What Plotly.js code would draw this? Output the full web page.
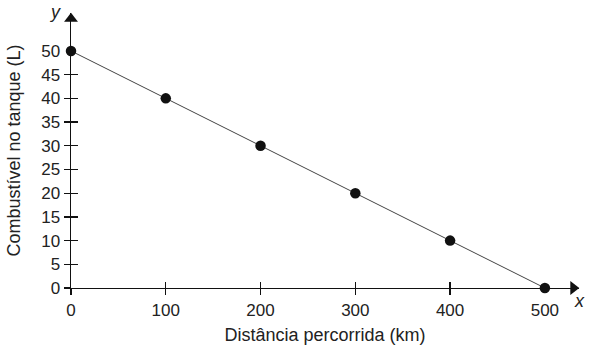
<!DOCTYPE html>
<html><head><meta charset="utf-8">
<script src="https://cdn.plot.ly/plotly-3.0.1.min.js"></script>
<style>body{margin:0;background:#fff}#c{width:601px;height:356px}</style>
</head><body><div id="c"></div>
<script>
const distancia = [0, 100, 200, 300, 400, 500];
const combustivel = [50, 40, 30, 20, 10, 0];
const xTicks = [0, 100, 200, 300, 400, 500];
const yTicks = [0, 5, 10, 15, 20, 25, 30, 35, 40, 45, 50];
const xTickMarks = [0, 100, 200, 300, 400];
const yTickMarks = [0, 5, 10, 15, 20, 25, 30, 35, 40, 45];
const xTitle = 'Distância percorrida (km)';
const yTitle = 'Combustível no tanque (L)';

const XMAX = 536, YMAX = 58;
const font = {family: 'Liberation Sans', color: '#222'};

const dummy = (xa, ya) => ({x: [0], y: [0], xaxis: xa, yaxis: ya, mode: 'markers', marker: {opacity: 0}, showlegend: false, hoverinfo: 'skip'});
const traces = [
  dummy('x', 'y'),
  dummy('x3', 'y3'),
  {x: distancia, y: combustivel, xaxis: 'x2', yaxis: 'y2', mode: 'lines', line: {color: '#444', width: 1}, cliponaxis: false, hoverinfo: 'skip', showlegend: false},
  {x: distancia, y: combustivel, xaxis: 'x2', yaxis: 'y2', mode: 'markers', marker: {color: '#111', size: 10.5}, cliponaxis: false, showlegend: false},
  {x: [0], y: [YMAX - 1.2], xaxis: 'x2', yaxis: 'y2', mode: 'markers', marker: {symbol: 'triangle-up', size: 12, color: '#111'}, cliponaxis: false, showlegend: false, hoverinfo: 'skip'},
  {x: [XMAX - 6], y: [0], xaxis: 'x2', yaxis: 'y2', mode: 'markers', marker: {symbol: 'triangle-right', size: 12, color: '#111'}, cliponaxis: false, showlegend: false, hoverinfo: 'skip'}
];

const axBase = {showgrid: false, zeroline: false, showline: false, linecolor: '#111', linewidth: 1.4, tickcolor: '#111', tickwidth: 1.3, layer: 'below traces'};

const layout = {
  width: 601, height: 356,
  margin: {l: 71, r: 22, t: 13, b: 68},
  paper_bgcolor: '#fff', plot_bgcolor: '#fff',
  font: Object.assign({size: 17}, font),
  xaxis: Object.assign({}, axBase, {range: [0, XMAX], showline: true, tickvals: xTicks, ticktext: xTicks.map(String), ticks: 'outside', ticklen: 6, tickcolor: 'rgba(0,0,0,0)',
    tickfont: Object.assign({size: 17}, font), title: {text: xTitle, font: Object.assign({size: 18}, font), standoff: 9}}),
  yaxis: Object.assign({}, axBase, {range: [0, YMAX], showline: true, tickvals: yTicks, ticktext: yTicks.map(String), ticks: 'outside', ticklen: 6, tickcolor: 'rgba(0,0,0,0)',
    tickfont: Object.assign({size: 17}, font), title: {text: yTitle, font: Object.assign({size: 18}, font), standoff: 16}}),
  xaxis2: Object.assign({}, axBase, {overlaying: 'x', range: [0, XMAX], tickvals: xTickMarks, ticks: 'inside', ticklen: 6, showticklabels: false}),
  yaxis2: Object.assign({}, axBase, {overlaying: 'y', range: [0, YMAX], tickvals: yTickMarks, ticks: 'inside', ticklen: 7, showticklabels: false}),
  xaxis3: Object.assign({}, axBase, {overlaying: 'x', range: [0, XMAX], tickvals: xTickMarks, ticks: 'outside', ticklen: 6, showticklabels: false}),
  yaxis3: Object.assign({}, axBase, {overlaying: 'y', range: [0, YMAX], tickvals: yTickMarks, ticks: 'outside', ticklen: 6, showticklabels: false}),
  annotations: [
    {text: '<i>y</i>', x: 0, y: YMAX, xref: 'x', yref: 'y', xanchor: 'right', yanchor: 'middle', xshift: -8, yshift: 1, showarrow: false, font: Object.assign({size: 18}, font)},
    {text: '<i>x</i>', x: XMAX, y: 0, xref: 'x', yref: 'y', xanchor: 'center', yanchor: 'top', xshift: 0, yshift: -1, showarrow: false, font: Object.assign({size: 18}, font)}
  ]
};
Plotly.newPlot('c', traces, layout, {displayModeBar: false, staticPlot: true});
</script></body></html>
